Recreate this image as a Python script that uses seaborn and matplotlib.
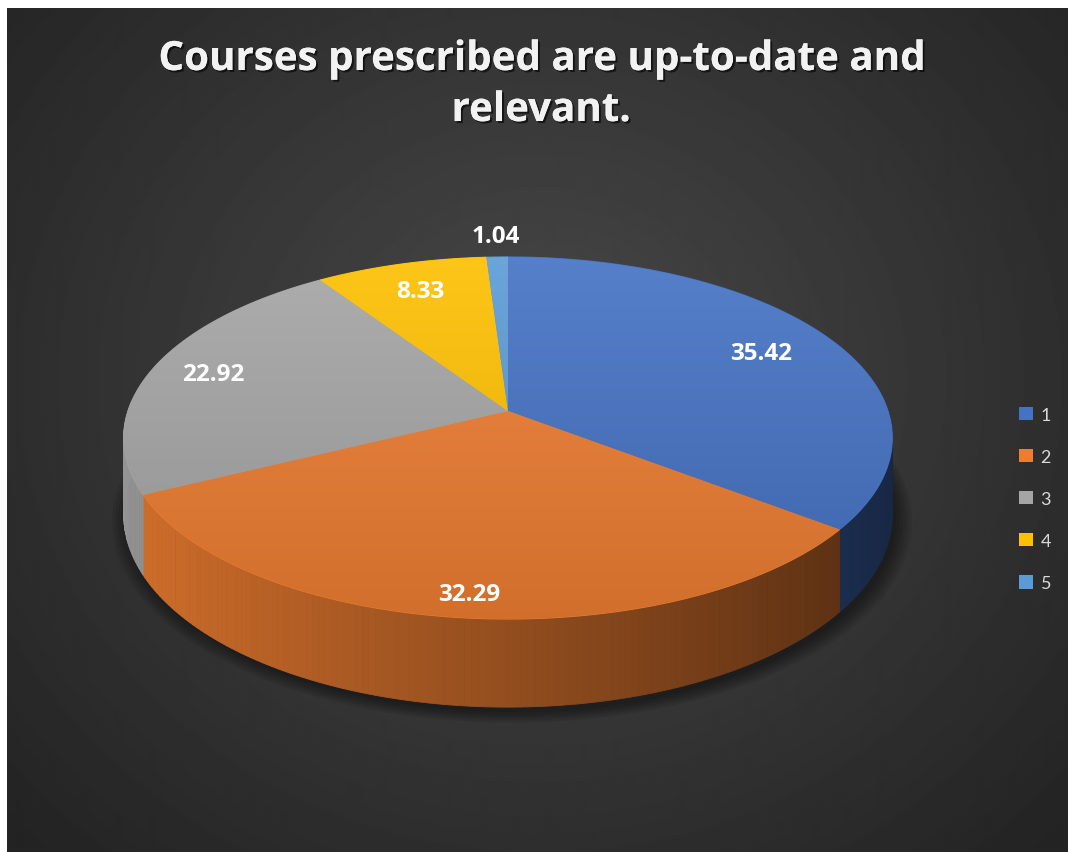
import numpy as np
import matplotlib
matplotlib.use("Agg")
import matplotlib.pyplot as plt
import matplotlib.patheffects as pe
import seaborn as sns
from matplotlib.patches import Polygon, Patch

# ── Data ──────────────────────────────────────────────────────────────────────
categories   = ["1", "2", "3", "4", "5"]
shares       = [35.42, 32.29, 22.92, 8.33, 1.04]
value_labels = ["35.42", "32.29", "22.92", "8.33", "1.04"]
title        = "Courses prescribed are up-to-date and\nrelevant."

slice_colors = sns.color_palette(["#4472C4", "#ED7D31", "#A5A5A5", "#FFC000", "#5B9BD5"])

# ── Layout of the tilted pie (pixel space) ────────────────────────────────────
CX, CY  = 508, 412     # centre of top face
RX, RY  = 380, 177     # radii of top face
K       = 0.149        # perspective strength
DEPTH   = 75           # thickness of the disc
LABEL_R = [0.78, 0.9, 0.83, 0.80, 1.16]

sns.set_theme(style="dark")
plt.rcParams["font.family"] = ["Open Sans", "DejaVu Sans"]


def project(theta, r=1.0, z=0.0):
    """theta clockwise from 12 o'clock; z=0 top face, z=1 bottom face."""
    u = r * np.sin(theta)
    v = r * np.cos(theta)
    s = 1.0 / (1.0 + K * v)
    return CX + RX * u * s, CY - RY * v * s + z * DEPTH * s


fig = plt.figure(figsize=(10.68, 8.53), dpi=100)
fig.patch.set_facecolor("white")
ax = fig.add_axes([0, 0, 1, 1])
ax.set_xlim(0, 1068)
ax.set_ylim(853, 0)
ax.axis("off")

# ── Background: dark radial gradient ─────────────────────────────────────────
yy, xx = np.mgrid[9:853:2, 7:1068:2]
d = np.sqrt(((xx - 540) / 620.0) ** 2 + ((yy - 380) / 560.0) ** 2)
level = np.clip(0.285 - 0.125 * d, 0.14, 0.3)
ax.imshow(level, cmap="gray", vmin=0, vmax=1, extent=(7, 1068, 853, 9),
          aspect="auto", interpolation="bilinear", zorder=0)

fracs  = np.array(shares) / np.sum(shares)
bounds = np.concatenate([[0.0], np.cumsum(fracs)]) * 2 * np.pi

# ── Soft shadow below the disc ───────────────────────────────────────────────
tt = np.linspace(0, 2 * np.pi, 240)
for grow in np.linspace(1.0, 1.04, 6):
    sx, sy = [], []
    for t in tt:
        x, y = project(t, grow, 1.0)
        sx.append(x + 4)
        sy.append(y + 5)
    ax.add_patch(Polygon(np.column_stack([sx, sy]), closed=True,
                         facecolor="black", edgecolor="none", alpha=0.08, zorder=1))

# ── Rim (side wall) ──────────────────────────────────────────────────────────
for i, col in enumerate(slice_colors):
    th = np.linspace(bounds[i], bounds[i + 1], max(3, int(fracs[i] * 400)))
    for t0, t1 in zip(th[:-1], th[1:]):
        tm = 0.5 * (t0 + t1)
        if np.cos(tm) > 0.05:
            continue
        f = 0.9 - 0.28 * (np.sin(tm) + 1)
        c = tuple(np.clip(np.array(col) * f, 0, 1))
        p = [project(t0, 1, 0), project(t1, 1, 0), project(t1, 1, 1), project(t0, 1, 1)]
        ax.add_patch(Polygon(p, closed=True, facecolor=c, edgecolor=c,
                             linewidth=0.6, zorder=2))

# ── Top faces with a soft vertical gradient ─────────────────────────────────
grad_y = np.linspace(0, 1, 128)[:, None, None]
for i, col in enumerate(slice_colors):
    th = np.linspace(bounds[i], bounds[i + 1], max(4, int(fracs[i] * 400)))
    pts = [project(0, 0, 0)] + [project(t, 1, 0) for t in th]
    pts = np.array(pts)
    base = np.array(col)
    ax.add_patch(Polygon(pts, closed=True, facecolor=base, edgecolor=base,
                         linewidth=0.8, zorder=3))
    light = base + (1 - base) * 0.1
    dark = base * 0.88
    img = light[None, None, :] * (1 - grad_y) + dark[None, None, :] * grad_y
    clip = Polygon(pts, closed=True, facecolor="none", edgecolor="none",
                   transform=ax.transData)
    ax.add_patch(clip)
    im = ax.imshow(img, extent=(100, 920, 630, 250), aspect="auto",
                   interpolation="bilinear", zorder=4)
    im.set_clip_path(clip)

# ── Data labels ──────────────────────────────────────────────────────────────
for i, lab in enumerate(value_labels):
    tm = 0.5 * (bounds[i] + bounds[i + 1])
    x, y = project(tm, LABEL_R[i], 0)
    ax.text(x, y, lab, ha="center", va="center", fontsize=17.5,
            fontweight="bold", color="white", zorder=6)

# ── Title ────────────────────────────────────────────────────────────────────
ax.text(541, 86, title, ha="center", va="center", fontsize=29,
        fontweight="bold", color="#f2f2f2", linespacing=1.4, zorder=6,
        path_effects=[pe.withSimplePatchShadow(offset=(1.5, -1.5),
                                               shadow_rgbFace="black", alpha=0.6),
                      pe.Normal()])

# ── Legend ───────────────────────────────────────────────────────────────────
handles = [Patch(facecolor=c, edgecolor="none") for c in slice_colors]
fig.legend(handles, categories, loc="center left",
           bbox_to_anchor=(1019 / 1068, 1 - 500 / 853), frameon=False,
           prop={"family": ["Lato", "DejaVu Sans"], "size": 13},
           labelcolor="#d9d9d9", handlelength=0.75,
           handleheight=0.75, handletextpad=0.45, labelspacing=1.45,
           borderpad=0, borderaxespad=0)

fig.savefig("out.png", dpi=100)
